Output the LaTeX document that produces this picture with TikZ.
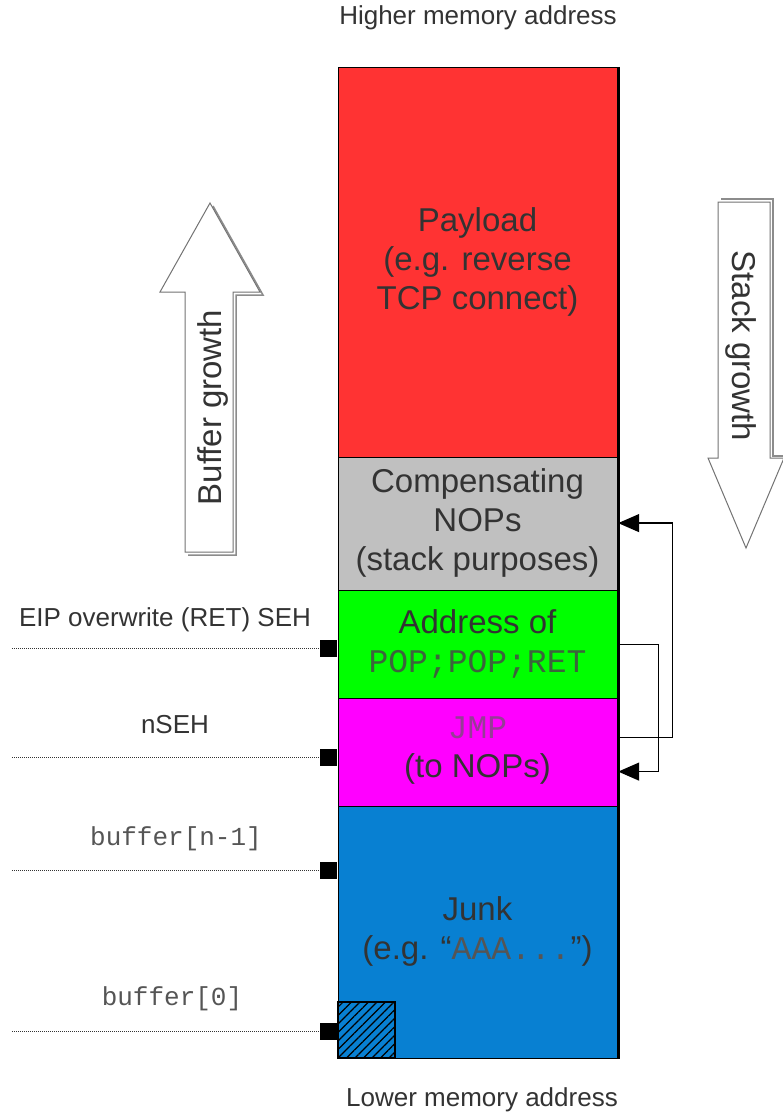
\documentclass[tikz,border=0pt]{standalone}
\usepackage{fontspec}
\setmainfont{Liberation Sans}
\setmonofont{Liberation Mono}
\usetikzlibrary{arrows.meta,patterns.meta,calc}

\definecolor{payred}{RGB}{255,51,51}
\definecolor{nopgray}{RGB}{192,192,192}
\definecolor{popgreen}{RGB}{0,255,0}
\definecolor{jmpmag}{RGB}{255,0,255}
\definecolor{junkblue}{RGB}{8,128,210}
\definecolor{txt}{RGB}{51,51,51}
\definecolor{monotxt}{RGB}{85,85,85}
\definecolor{poptxt}{RGB}{60,100,60}
\definecolor{jmptxt}{RGB}{150,60,150}
\definecolor{shade}{RGB}{140,140,140}

\begin{document}
\begin{tikzpicture}[x=1pt,y=-1pt,
  block/.style={draw=black,line width=1.2pt,minimum width=279pt,anchor=north west,inner sep=0pt},
  blocktext/.style={text=txt,align=center,font=\fontsize{33}{39}\selectfont},
  label/.style={text=txt,font=\fontsize{26}{30}\selectfont},
  monolabel/.style={text=monotxt,font=\fontsize{26}{30}\selectfont\ttfamily},
  marker/.style={fill=black,minimum width=17pt,minimum height=17pt,inner sep=0pt},
  guide/.style={densely dotted,line width=1pt,draw=black!80},
  conn/.style={line width=1.3pt,-{Triangle[length=21pt,width=18pt]}},
  growarrow/.style={draw=black!55,line width=1pt,fill=white},
  growshadow/.style={draw=shade,line width=1.5pt},
  growtext/.style={text=txt,font=\fontsize{33}{39}\selectfont}
]
\useasboundingbox (0,0) rectangle (783,1116);

% memory column
\node[block,fill=payred,minimum height=390pt] (payload) at (338,67) {};
\node[block,fill=nopgray,minimum height=133pt] (nops) at (338,457) {};
\node[block,fill=popgreen,minimum height=108pt] (ppr) at (338,590) {};
\node[block,fill=jmpmag,minimum height=108pt] (jmp) at (338,698) {};
\node[block,fill=junkblue,minimum height=252pt] (junk) at (338,806) {};
\draw[line width=3pt] (payload.north east) -- (junk.south east);

% first buffer byte
\pattern[pattern={Lines[angle=45,distance=6pt,line width=1.2pt]},pattern color=black]
  (338,1002) rectangle (395,1058);
\draw[line width=1.2pt] (338,1002) rectangle (395,1058);

% block contents
\node[blocktext] (payloadtxt) at (477.5,262) {Payload\\(e.g. reverse\\TCP connect)};
\node[blocktext] (nopstxt) at (477.5,523) {Compensating\\NOPs\\(stack purposes)};
\node[blocktext] (pprtxt) at (477.5,644) {Address of\\{\ttfamily\color{poptxt}POP;POP;RET}};
\node[blocktext] (jmptxt) at (477.5,751) {{\ttfamily\color{jmptxt}JMP}\\(to NOPs)};
\node[blocktext] (junktxt) at (477.5,931) {Junk\\(e.g. “{\ttfamily\color{monotxt}AAA...}”)};

% address labels
\node[label] (hi) at (478,18) {Higher memory address};
\node[label] (lo) at (482,1100) {Lower memory address};

% SEH chain jumps
\draw[conn] (ppr.east) -- ++(40,0) |- ([yshift=-19pt]jmp.east);
\draw[conn] ([yshift=15pt]jmp.east) -- ++(54,0) |- ([yshift=1pt]nops.east);

% markers on the left
\node[marker] (m1) at (328.5,648) {};
\node[marker] (m2) at (328.5,757) {};
\node[marker] (m3) at (328.5,870) {};
\node[marker] (m4) at (328.5,1031) {};
\coordinate (d1) at (12,648);
\coordinate (d2) at (12,757);
\coordinate (d3) at (12,870);
\coordinate (d4) at (12,1031);
\draw[guide] (d1) -- (m1.west);
\draw[guide] (d2) -- (m2.west);
\draw[guide] (d3) -- (m3.west);
\draw[guide] (d4) -- (m4.west);
\node[label] (l1) at (165,620) {EIP overwrite (RET) SEH};
\node[label] (l2) at (175,725) {nSEH};
\node[monolabel] (l3) at (176,839) {buffer[n-1]};
\node[monolabel] (l4) at (172,999) {buffer[0]};

% buffer growth (upwards)
\draw[growshadow] (213,206) -- (263,295) -- (236,295) -- (236,555) -- (188,555);
\draw[growarrow] (210,203) -- (260,292) -- (233,292) -- (233,552) -- (185,552) -- (185,292) -- (160,292) -- cycle;
\node[growtext,rotate=90] (bg) at (213,407.5) {Buffer growth};

% stack growth (downwards)
\draw[growshadow] (721,199) -- (773,199) -- (773,456) -- (786,456);
\draw[growarrow] (718,202) -- (770,202) -- (770,458) -- (784,458) -- (746,548) -- (708,458) -- (718,458) -- cycle;
\node[growtext,rotate=-90] (sg) at (741,346) {Stack growth};
\end{tikzpicture}
\end{document}
